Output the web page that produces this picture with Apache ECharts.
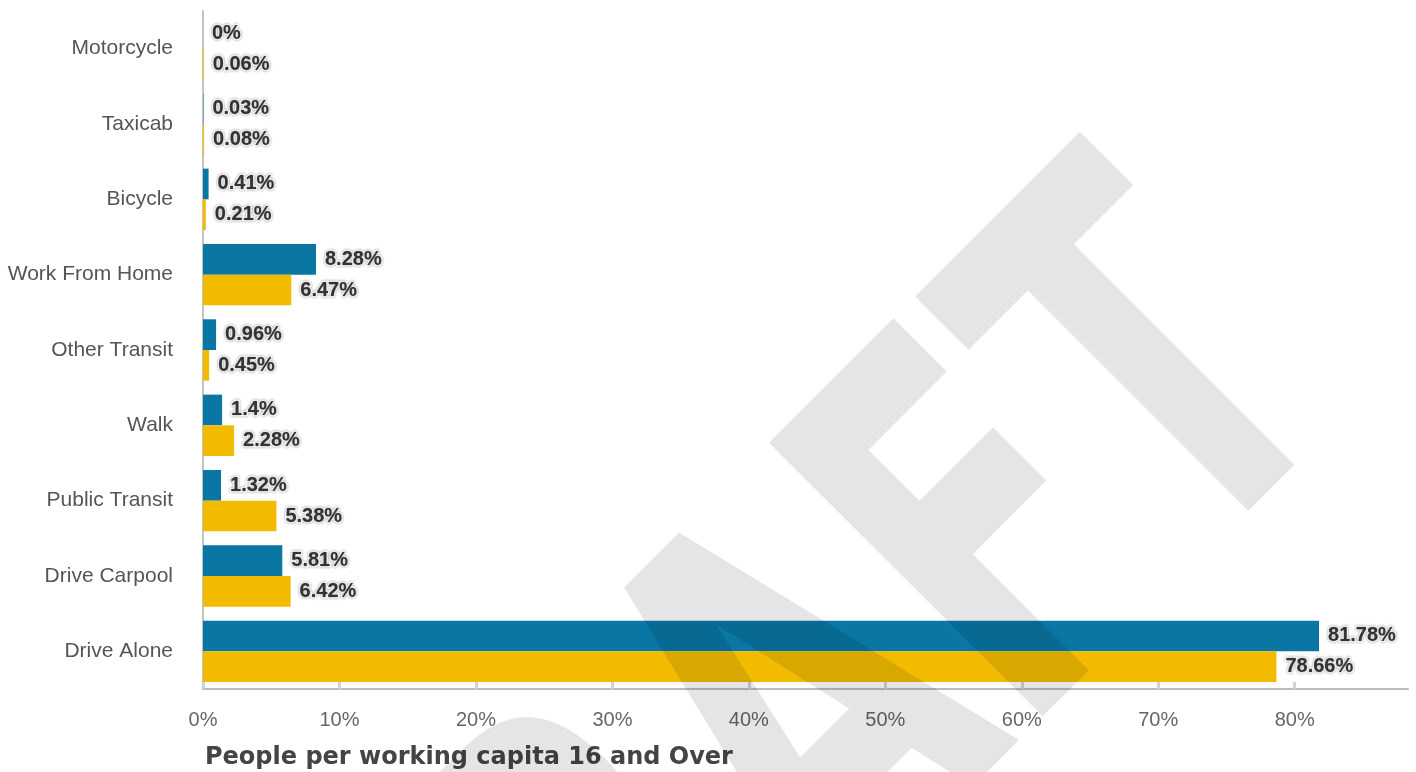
<!DOCTYPE html>
<html>
<head>
<meta charset="utf-8">
<script src="https://cdn.jsdelivr.net/npm/echarts@6/dist/echarts.min.js"></script>
<style>
    html, body {margin: 0; padding: 0; background: #fff;}
    #chart {width: 1416px; height: 772px;}
</style>
</head>
<body>
<div id="chart"></div>
<script>
// categories, top to bottom
var modes = ['Motorcycle', 'Taxicab', 'Bicycle', 'Work From Home', 'Other Transit', 'Walk', 'Public Transit', 'Drive Carpool', 'Drive Alone'];
// blue series (top bar of each pair)
var blueValues = [0, 0.03, 0.41, 8.28, 0.96, 1.4, 1.32, 5.81, 81.78];
// yellow series (bottom bar of each pair)
var yellowValues = [0.06, 0.08, 0.21, 6.47, 0.45, 2.28, 5.38, 6.42, 78.66];
var xTicks = [0, 10, 20, 30, 40, 50, 60, 70, 80];

var labelStyle = {
    show: true,
    position: 'right',
    distance: 9,
    formatter: function (p) {
        return p.value + '%';
    },
    fontFamily: 'Liberation Sans',
    fontWeight: 'bold',
    fontSize: 20,
    color: '#333',
    textBorderColor: '#fff',
    textBorderWidth: 3,
    textShadowColor: 'rgba(0,0,0,0.45)',
    textShadowBlur: 2
};

var myChart = echarts.init(document.getElementById('chart'));
myChart.setOption({
    animation: false,
    title: {
        text: 'People per working capita 16 and Over',
        left: 200,
        top: 741,
        textStyle: {
            fontFamily: 'DejaVu Sans',
            fontWeight: 'bold',
            fontSize: 24,
            color: '#444'
        }
    },
    grid: {
        left: 203,
        right: 8,
        top: 11,
        bottom: 83
    },
    xAxis: {
        type: 'value',
        min: 0,
        max: 88.3,
        interval: xTicks[1] - xTicks[0],
        axisLine: {show: true, lineStyle: {color: '#bbb', width: 2}},
        axisTick: {show: true, inside: true, length: 7, lineStyle: {color: '#d2d2d2', width: 3}},
        splitLine: {show: false},
        axisLabel: {
            showMaxLabel: false,
            margin: 21,
            fontFamily: 'Liberation Sans',
            fontSize: 20,
            color: '#666',
            formatter: '{value}%'
        }
    },
    yAxis: {
        type: 'category',
        inverse: true,
        data: modes,
        axisLine: {show: true, lineStyle: {color: '#c4c4c4', width: 2}},
        axisTick: {show: false},
        axisLabel: {
            margin: 30,
            fontFamily: 'Liberation Sans',
            fontSize: 21,
            color: '#555'
        }
    },
    series: [
        {
            name: 'blue',
            type: 'bar',
            data: blueValues,
            barGap: '0%',
            barCategoryGap: '18.5%',
            itemStyle: {color: '#0a76a4'},
            label: labelStyle
        },
        {
            name: 'yellow',
            type: 'bar',
            data: yellowValues,
            barGap: '0%',
            barCategoryGap: '18.5%',
            itemStyle: {color: '#f2bb00'},
            label: labelStyle
        }
    ],
    // DRAFT watermark, drawn over the bars
    graphic: [
        {
            type: 'text',
            z: 100,
            silent: true,
            x: 799,
            y: 765,
            rotation: Math.PI / 4,
            scaleX: 0.653,
            style: {
                text: 'DRAFT',
                fontFamily: 'DejaVu Sans',
                fontWeight: 'bold',
                fontSize: 531,
                fill: 'rgba(0,0,0,0.1)',
                align: 'center',
                verticalAlign: 'middle'
            }
        }
    ]
});
</script>
</body>
</html>
